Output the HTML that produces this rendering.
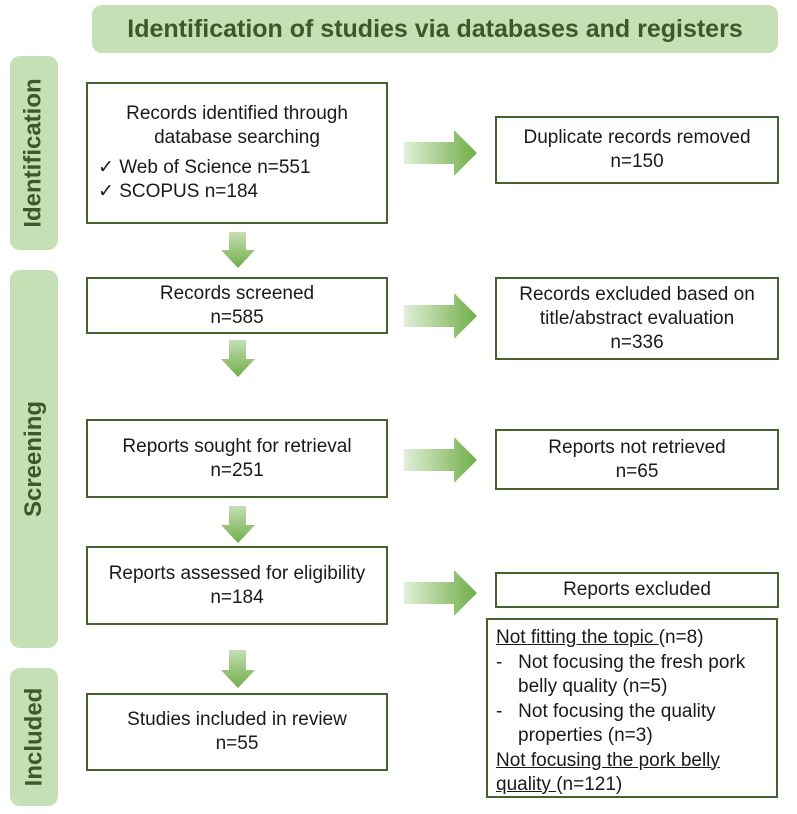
<!DOCTYPE html>
<html><head><meta charset="utf-8"><style>
body{margin:0;width:797px;height:814px;background:#fff;position:relative;font-family:"Liberation Sans",sans-serif;overflow:hidden}
.a{position:absolute;box-sizing:border-box}
.t{background:#c5e0b4;border-radius:10px;color:#3b5a26;font-weight:bold;font-size:25px;display:flex;align-items:center;justify-content:center}
.s{background:#c5e0b4;border-radius:10px;color:#3b5a26;font-weight:bold;font-size:24px;display:flex;align-items:center;justify-content:center}
.s span{transform:rotate(-90deg);white-space:nowrap}
.b{border:2px solid #43622f;background:#fff;font-size:19px;color:#1a1a1a;text-align:center;display:flex;flex-direction:column;justify-content:center;line-height:24px}
u{text-decoration:underline}
</style></head><body>
<div class="a t" style="left:92px;top:5px;width:686px;height:48px">Identification of studies via databases and registers</div>
<div class="a s" style="left:10px;top:56px;width:48px;height:194px"><span>Identification</span></div>
<div class="a s" style="left:10px;top:270px;width:48px;height:378px"><span>Screening</span></div>
<div class="a s" style="left:10px;top:668px;width:48px;height:138px"><span>Included</span></div>

<div class="a b" style="left:86px;top:82px;width:302px;height:142px"><div>Records identified through<br>database searching</div><div style="text-align:left;padding-left:10px;margin-top:6px">✓ Web of Science n=551<br>✓ SCOPUS n=184</div></div>
<div class="a b" style="left:86px;top:277px;width:302px;height:57px">Records screened<br>n=585</div>
<div class="a b" style="left:86px;top:419px;width:302px;height:79px">Reports sought for retrieval<br>n=251</div>
<div class="a b" style="left:86px;top:546px;width:302px;height:79px">Reports assessed for eligibility<br>n=184</div>
<div class="a b" style="left:86px;top:693px;width:302px;height:78px">Studies included in review<br>n=55</div>

<div class="a b" style="left:495px;top:116px;width:284px;height:68px">Duplicate records removed<br>n=150</div>
<div class="a b" style="left:495px;top:277px;width:284px;height:83px">Records excluded based on<br>title/abstract evaluation<br>n=336</div>
<div class="a b" style="left:495px;top:429px;width:284px;height:61px">Reports not retrieved<br>n=65</div>
<div class="a b" style="left:495px;top:572px;width:284px;height:36px">Reports excluded</div>
<div class="a b" style="left:486px;top:618px;width:292px;height:180px;text-align:left;justify-content:flex-start;padding:6px 8px;line-height:24.5px"><div><u>Not fitting the topic </u>(n=8)</div><div style="padding-left:22px;text-indent:-22px">-&nbsp;&nbsp; Not focusing the fresh pork belly quality (n=5)</div><div style="padding-left:22px;text-indent:-22px">-&nbsp;&nbsp; Not focusing the quality properties (n=3)</div><div><u>Not focusing the pork belly quality </u>(n=121)</div></div>

<svg class="a" style="left:0;top:0" width="797" height="814">
<defs>
<linearGradient id="gd" x1="0" y1="0" x2="0" y2="1"><stop offset="0" stop-color="#c5e0b4"/><stop offset="1" stop-color="#70ad47"/></linearGradient>
<linearGradient id="gr" x1="0" y1="0" x2="1" y2="0"><stop offset="0" stop-color="#e2f0d9"/><stop offset="1" stop-color="#70ad47"/></linearGradient>
</defs>
<g fill="url(#gd)">
<path d="M229 232h17v18h9l-17 18l-17-18h8z"/>
<path d="M229 340h17v19h9l-17 18l-17-18h8z"/>
<path d="M229 506h17v19h9l-17 18l-17-18h8z"/>
<path d="M229 650h17v20h9l-17 18l-17-18h8z"/>
</g>
<g fill="url(#gr)">
<path d="M404 142h50v-12l23 23l-23 23v-12h-50z"/>
<path d="M404 305h50v-12l23 23l-23 23v-12h-50z"/>
<path d="M404 449h50v-12l23 23l-23 23v-12h-50z"/>
<path d="M404 582h50v-12l23 23l-23 23v-12h-50z"/>
</g>
</svg>
</body></html>
